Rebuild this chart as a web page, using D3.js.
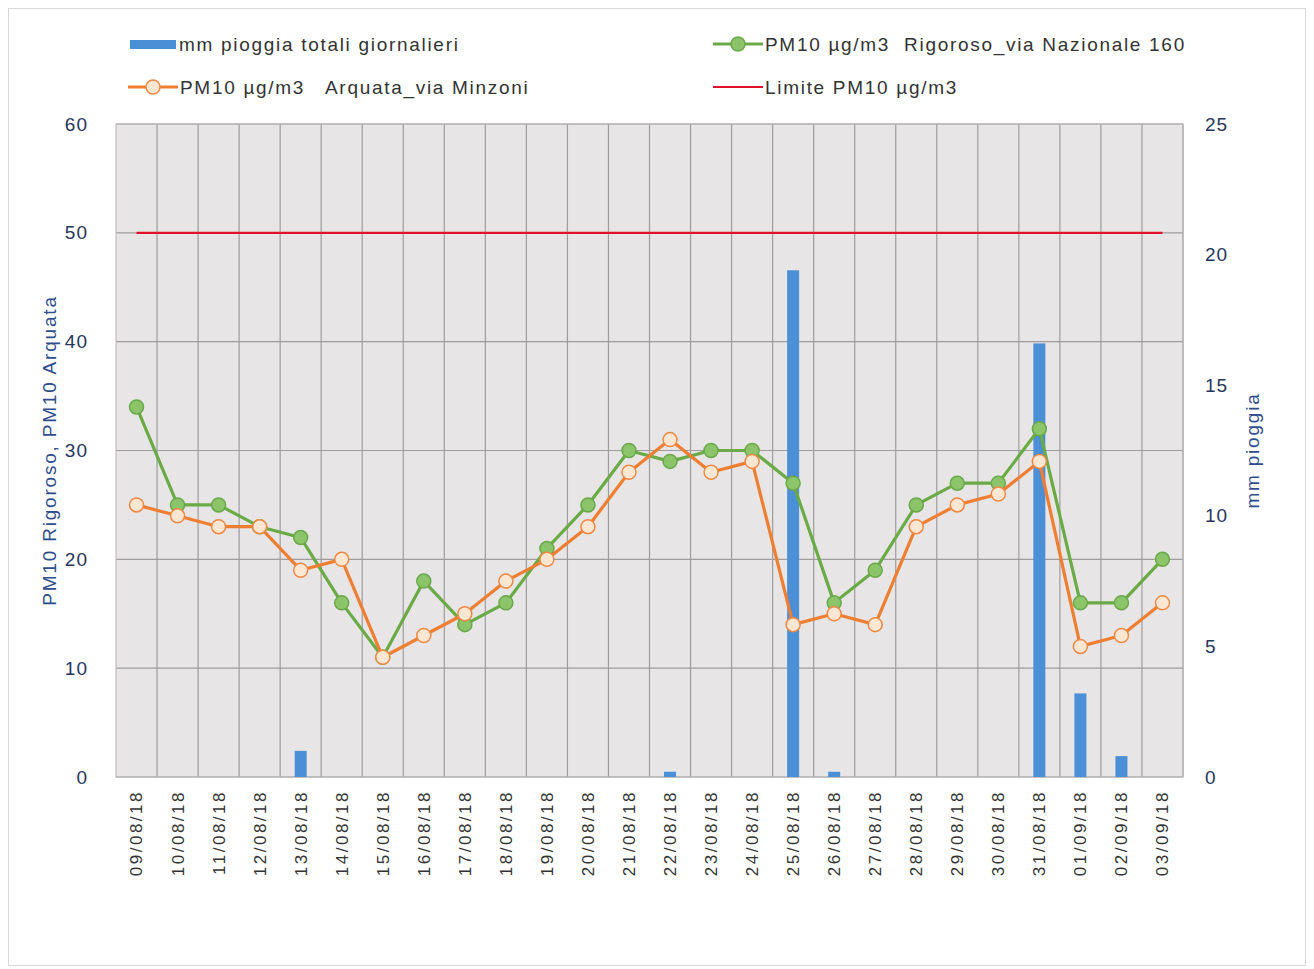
<!DOCTYPE html>
<html>
<head>
<meta charset="utf-8">
<script src="https://cdn.jsdelivr.net/npm/d3@7"></script>
<style>
  body { margin: 0; background: #fff; }
  svg { font-family: "Liberation Sans", Arial, sans-serif; }
  text { white-space: pre; }
</style>
</head>
<body>
<div id="chart"></div>
<script>
const dates = ['09/08/18', '10/08/18', '11/08/18', '12/08/18', '13/08/18', '14/08/18', '15/08/18',
   '16/08/18', '17/08/18', '18/08/18', '19/08/18', '20/08/18', '21/08/18', '22/08/18', '23/08/18',
   '24/08/18', '25/08/18', '26/08/18', '27/08/18', '28/08/18', '29/08/18', '30/08/18', '31/08/18',
   '01/09/18', '02/09/18', '03/09/18'];
const rigoroso = [34, 25, 25, 23, 22, 16, 11, 18, 14, 16, 21, 25, 30, 29, 30, 30, 27, 16, 19, 25, 27, 27, 32, 16, 16, 20];
const arquata = [25, 24, 23, 23, 19, 20, 11, 13, 15, 18, 20, 23, 28, 31, 28, 29, 14, 15, 14, 23, 25, 26, 29, 12, 13, 16];
const pioggia = [0, 0, 0, 0, 1.0, 0, 0, 0, 0, 0, 0, 0, 0, 0.2, 0, 0, 19.4, 0.2, 0, 0, 0, 0, 16.6, 3.2, 0.8, 0];
const limite = 50;
const leftTicks = [0, 10, 20, 30, 40, 50, 60];
const rightTicks = [0, 5, 10, 15, 20, 25];

const W = 1314, H = 969;
const margin = { left: 116, right: 131, top: 124, bottom: 192 };
const width = W - margin.left - margin.right;
const height = H - margin.top - margin.bottom;

const svg = d3.select('#chart').append('svg')
   .attr('width', W)
   .attr('height', H);

svg.append('rect')
   .attr('x', 8.5).attr('y', 8.5)
   .attr('width', W - 17).attr('height', H - 12)
   .attr('fill', '#fff')
   .attr('stroke', '#d9d9d9');

const g = svg.append('g')
   .attr('transform', `translate(${margin.left}, ${margin.top})`);

const x = d3.scaleBand().domain(dates).range([0, width]);
const y = d3.scaleLinear().domain([0, 60]).range([height, 0]);
const y2 = d3.scaleLinear().domain([0, 25]).range([height, 0]);

// plot background
g.append('rect')
   .attr('width', width).attr('height', height)
   .attr('fill', '#e7e5e6');

// vertical grid between categories
g.append('g').selectAll('line')
   .data(dates)
   .enter().append('line')
      .attr('x1', d => x(d) + x.bandwidth()).attr('x2', d => x(d) + x.bandwidth())
      .attr('y1', 0).attr('y2', height)
      .attr('stroke', '#9e9c9d').attr('stroke-width', 1.2);

// horizontal grid
g.append('g').selectAll('line')
   .data(leftTicks)
   .enter().append('line')
      .attr('x1', 0).attr('x2', width)
      .attr('y1', d => y(d)).attr('y2', d => y(d))
      .attr('stroke', '#9e9c9d').attr('stroke-width', 1.2);

g.append('rect')
   .attr('width', width).attr('height', height)
   .attr('fill', 'none')
   .attr('stroke', '#b8b6b7');

// left axis
const yAxis = g.append('g')
   .call(d3.axisLeft(y).tickValues(leftTicks).tickSize(0).tickPadding(28));
yAxis.select('.domain').remove();
yAxis.selectAll('text')
   .attr('font-size', 19)
   .attr('letter-spacing', 1)
   .attr('fill', '#26365e');

// right axis
const y2Axis = g.append('g')
   .attr('transform', `translate(${width}, 0)`)
   .call(d3.axisRight(y2).tickValues(rightTicks).tickSize(0).tickPadding(22));
y2Axis.select('.domain').remove();
y2Axis.selectAll('text')
   .attr('font-size', 19)
   .attr('letter-spacing', 1)
   .attr('fill', '#26365e');

// x axis labels
const xAxis = g.append('g')
   .attr('transform', `translate(0, ${height})`)
   .call(d3.axisBottom(x).tickSize(0).tickPadding(0));
xAxis.select('.domain').remove();
xAxis.selectAll('text')
   .attr('font-size', 17)
   .attr('letter-spacing', 2.5)
   .attr('fill', '#333')
   .attr('text-anchor', 'end')
   .attr('dy', '0.35em')
   .attr('transform', 'translate(0, 13) rotate(-90)');

// axis titles
g.append('text')
   .attr('transform', `translate(-60, ${height / 2}) rotate(-90)`)
   .attr('text-anchor', 'middle')
   .attr('font-size', 19)
   .attr('letter-spacing', 1.8)
   .attr('fill', '#2f4c8c')
   .text('PM10 Rigoroso, PM10 Arquata');

g.append('text')
   .attr('transform', `translate(${width + 76}, ${height / 2}) rotate(-90)`)
   .attr('text-anchor', 'middle')
   .attr('font-size', 19)
   .attr('letter-spacing', 1.8)
   .attr('fill', '#2f4c8c')
   .text('mm pioggia');

// rain bars
const barW = 12;
g.append('g').selectAll('rect')
   .data(pioggia.map((v, i) => ({ date: dates[i], v })))
   .enter().append('rect')
      .attr('x', d => x(d.date) + x.bandwidth() / 2 - barW / 2)
      .attr('width', barW)
      .attr('y', d => y2(d.v))
      .attr('height', d => height - y2(d.v))
      .attr('fill', '#4b8fd6');

// limit line
g.append('line')
   .attr('x1', x(dates[0]) + x.bandwidth() / 2)
   .attr('x2', x(dates[dates.length - 1]) + x.bandwidth() / 2)
   .attr('y1', y(limite)).attr('y2', y(limite))
   .attr('stroke', '#e2112a').attr('stroke-width', 2.2);

const line = d3.line()
   .x((d, i) => x(dates[i]) + x.bandwidth() / 2)
   .y(d => y(d));

const series = [
   { vals: rigoroso, stroke: '#6aab46', fill: '#8cc46a', mstroke: '#69a94a' },
   { vals: arquata, stroke: '#ee7f32', fill: '#fde6d2', mstroke: '#ee8a45' }
];

series.forEach(s => {
   g.append('path')
      .datum(s.vals)
      .attr('d', line)
      .attr('fill', 'none')
      .attr('stroke', s.stroke)
      .attr('stroke-width', 3.2)
      .attr('stroke-linejoin', 'round');

   g.append('g').selectAll('circle')
      .data(s.vals)
      .enter().append('circle')
         .attr('cx', (d, i) => x(dates[i]) + x.bandwidth() / 2)
         .attr('cy', d => y(d))
         .attr('r', 7)
         .attr('fill', s.fill)
         .attr('stroke', s.mstroke)
         .attr('stroke-width', 1.5);
});

// legend
const legend = svg.append('g');
const legendText = (lx, ly, t) => legend.append('text')
   .attr('x', lx).attr('y', ly)
   .attr('dy', '0.35em')
   .attr('font-size', 19)
   .attr('letter-spacing', 1.7)
   .attr('fill', '#333')
   .text(t);

legend.append('rect')
   .attr('x', 130).attr('y', 40).attr('width', 46).attr('height', 9)
   .attr('fill', '#4b8fd6');
legendText(179, 44, 'mm pioggia totali giornalieri');

const markerItem = (lx, ly, s, t) => {
   legend.append('line')
      .attr('x1', lx).attr('x2', lx + 50)
      .attr('y1', ly).attr('y2', ly)
      .attr('stroke', s.stroke).attr('stroke-width', 3.2);
   legend.append('circle')
      .attr('cx', lx + 25).attr('cy', ly).attr('r', 7)
      .attr('fill', s.fill).attr('stroke', s.mstroke).attr('stroke-width', 1.5);
   legendText(lx + 52, ly, t);
};

markerItem(713, 44, series[0], 'PM10 µg/m3  Rigoroso_via Nazionale 160');
markerItem(128, 87, series[1], 'PM10 µg/m3   Arquata_via Minzoni');

legend.append('line')
   .attr('x1', 713).attr('x2', 763)
   .attr('y1', 87).attr('y2', 87)
   .attr('stroke', '#e2112a').attr('stroke-width', 2.2);
legendText(765, 87, 'Limite PM10 µg/m3');
</script>
</body>
</html>
